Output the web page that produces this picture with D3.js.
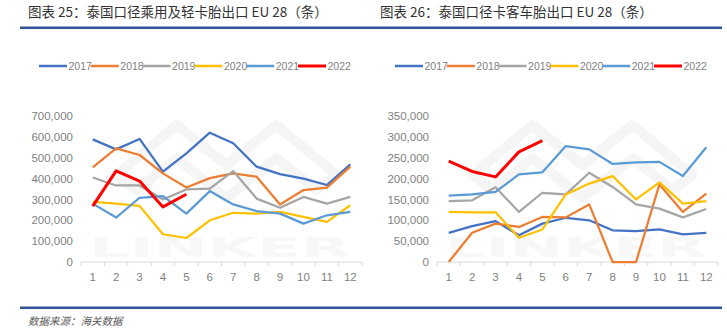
<!DOCTYPE html>
<html>
    <head>
        <meta charset="utf-8">
        <title>泰国口径轮胎出口 EU 28</title>
        <script src="https://d3js.org/d3.v7.min.js"></script>
        <style>
            body { margin: 0; background: #fff; }
            svg { display: block; font-family: "Noto Sans CJK SC", "Liberation Sans", sans-serif; }
        </style>
    </head>
    <body>
        <div id="chart"></div>
        <script>
            //  months and series years
            const months = ["1", "2", "3", "4", "5", "6", "7", "8", "9", "10", "11", "12"];
            const years = ["2017", "2018", "2019", "2020", "2021", "2022"];
            const colors = ["#4472c4", "#ed7d31", "#a5a5a5", "#ffc000", "#5b9bd5", "#ff0000"];

            //  passenger car + light truck tyres (left)
            const pcr2017 = [588000, 540000, 590000, 433000, 521000, 620000, 569000, 457000, 421000, 400000, 369000, 468000];
            const pcr2018 = [454000, 545000, 513000, 425000, 357000, 402000, 425000, 409000, 276000, 345000, 357000, 457000];
            const pcr2019 = [405000, 367000, 367000, 300000, 348000, 352000, 436000, 304000, 260000, 312000, 280000, 312000];
            const pcr2020 = [288000, 280000, 269000, 133000, 115000, 200000, 236000, 232000, 240000, 216000, 192000, 272000];
            const pcr2021 = [280000, 213000, 308000, 316000, 232000, 340000, 276000, 244000, 232000, 184000, 224000, 240000];
            const pcr2022 = [268000, 437000, 388000, 264000, 325000];

            //  truck and bus tyres (right)
            const tbr2017 = [70000, 86000, 98000, 64000, 92000, 106000, 100000, 76000, 74000, 78000, 66000, 70000];
            const tbr2018 = [0, 70000, 92000, 84000, 108000, 107000, 138000, 0, 0, 186000, 120000, 164000];
            const tbr2019 = [146000, 148000, 179000, 120000, 166000, 162000, 214000, 180000, 138000, 128000, 107000, 127000];
            const tbr2020 = [120000, 119000, 119000, 58000, 78000, 162000, 188000, 206000, 150000, 191000, 140000, 146000];
            const tbr2021 = [159000, 162000, 168000, 210000, 215000, 278000, 270000, 235000, 239000, 240000, 206000, 275000];
            const tbr2022 = [242000, 217000, 204000, 264000, 291000];

            const leftTicks = [0, 100000, 200000, 300000, 400000, 500000, 600000, 700000];
            const rightTicks = [0, 50000, 100000, 150000, 200000, 250000, 300000, 350000];

            const width = 727, height = 332;
            const ruleColor = "#2f5597";
            const textGrey = "#7f7f7f";

            const svg = d3.select("#chart").append("svg")
                .attr("width", width)
                .attr("height", height);

            //  top and bottom rules
            svg.append("rect").attr("x", 20).attr("y", 26.5).attr("width", 702).attr("height", 2.5).attr("fill", ruleColor);
            svg.append("rect").attr("x", 20).attr("y", 306.5).attr("width", 702).attr("height", 2.5).attr("fill", ruleColor);

            svg.append("text")
                .attr("x", 28).attr("y", 325)
                .attr("font-size", 10.5)
                .attr("font-style", "italic")
                .attr("fill", "#595959")
                .text("数据来源：海关数据");

            function drawPanel(opts) {
                const g = svg.append("g");

                g.append("text")
                    .attr("x", opts.titleX).attr("y", 17)
                    .attr("font-size", 13.5)
                    .attr("fill", "#333")
                    .text(opts.title);

                //  faint logo watermark
                const wm = g.append("g").attr("opacity", 0.6);
                const cx = (opts.range[0] + opts.range[1]) / 2;
                wm.append("path")
                    .attr("d", `M${cx - 105},175 L${cx - 45},125 L${cx + 5},165 L${cx + 55},125 L${cx + 115},175 L${cx + 95},190 L${cx + 55},158 L${cx + 5},198 L${cx - 45},158 L${cx - 85},190 Z`)
                    .attr("fill", "none")
                    .attr("stroke", "#f0f0f0")
                    .attr("stroke-width", 10)
                    .attr("stroke-linejoin", "round");
                wm.append("text")
                    .attr("x", opts.range[0] + 8).attr("y", 257)
                    .attr("font-size", 27)
                    .attr("font-weight", "bold")
                    .attr("font-family", "DejaVu Sans")
                    .attr("textLength", opts.range[1] - opts.range[0] - 20)
                    .attr("lengthAdjust", "spacingAndGlyphs")
                    .attr("fill", "#f2f2f2")
                    .text("LINKER");

                const x = d3.scaleBand().domain(months).range(opts.range);
                const y = d3.scaleLinear().domain([0, opts.max]).range([262, 116]);

                //  y axis labels only
                const yAxis = g.append("g")
                    .attr("transform", `translate(${opts.range[0] - 8},0)`)
                    .call(d3.axisLeft(y).tickValues(opts.ticks).tickSize(0).tickPadding(0).tickFormat(d3.format(",")));
                yAxis.select(".domain").remove();
                yAxis.selectAll("text").attr("fill", textGrey).attr("font-size", 11.5).attr("font-family", "Liberation Sans, sans-serif");

                //  x axis with ticks between categories
                const xAxis = g.append("g").attr("transform", "translate(0,262)");
                xAxis.append("line")
                    .attr("x1", opts.range[0]).attr("x2", opts.range[1])
                    .attr("stroke", "#d9d9d9");
                xAxis.selectAll(".tk")
                    .data(d3.range(months.length + 1))
                    .join("line")
                    .attr("x1", i => opts.range[0] + i * x.step())
                    .attr("x2", i => opts.range[0] + i * x.step())
                    .attr("y1", 0).attr("y2", 4)
                    .attr("stroke", "#d9d9d9");
                xAxis.selectAll(".lbl")
                    .data(months)
                    .join("text")
                    .attr("x", d => x(d) + x.bandwidth() / 2)
                    .attr("y", 19)
                    .attr("text-anchor", "middle")
                    .attr("font-size", 11.5)
                    .attr("font-family", "Liberation Sans, sans-serif")
                    .attr("fill", textGrey)
                    .text(d => d);

                const line = d3.line()
                    .x((d, i) => x(months[i]) + x.bandwidth() / 2)
                    .y(d => y(d));

                g.append("g").selectAll("path")
                    .data(opts.series)
                    .join("path")
                    .attr("d", d => line(d))
                    .attr("fill", "none")
                    .attr("stroke", (d, i) => colors[i])
                    .attr("stroke-width", (d, i) => i === 5 ? 3 : 2.25)
                    .attr("stroke-linejoin", "round");

                //  legend
                const legend = g.append("g").selectAll("g")
                    .data(years)
                    .join("g")
                    .attr("transform", (d, i) => `translate(${opts.legendX + i * 51.8},66)`);
                legend.append("line")
                    .attr("x1", 0).attr("x2", 28)
                    .attr("stroke", (d, i) => colors[i])
                    .attr("stroke-width", (d, i) => i === 5 ? 3 : 2.5);
                legend.append("text")
                    .attr("x", 29.5).attr("y", 4)
                    .attr("font-size", 10.5)
                    .attr("font-family", "Liberation Sans, sans-serif")
                    .attr("fill", textGrey)
                    .text(d => d);
            }

            drawPanel({
                title: "图表 25：泰国口径乘用及轻卡胎出口 EU 28（条）",
                titleX: 28,
                range: [81, 362],
                max: 700000,
                ticks: leftTicks,
                legendX: 39,
                series: [pcr2017, pcr2018, pcr2019, pcr2020, pcr2021, pcr2022]
            });

            drawPanel({
                title: "图表 26：泰国口径卡客车胎出口 EU 28（条）",
                titleX: 380,
                range: [437, 718],
                max: 350000,
                ticks: rightTicks,
                legendX: 395,
                series: [tbr2017, tbr2018, tbr2019, tbr2020, tbr2021, tbr2022]
            });
        </script>
    </body>
</html>
